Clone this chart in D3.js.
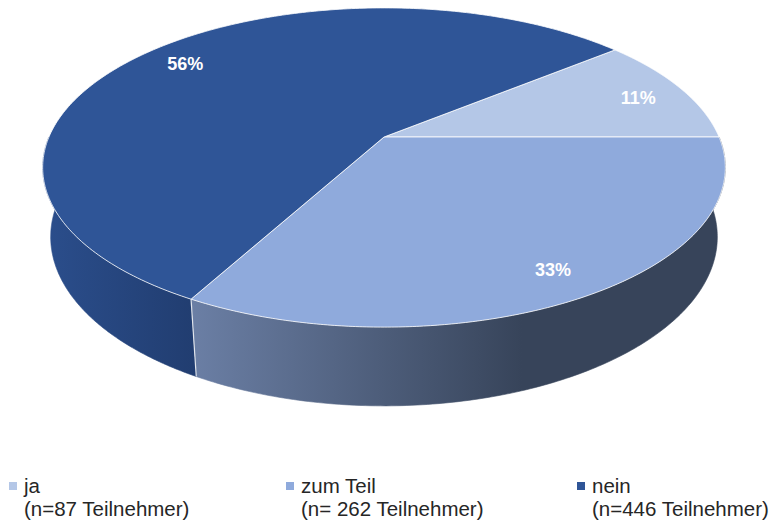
<!DOCTYPE html>
<html>
<head>
<meta charset="utf-8">
<script src="https://cdn.jsdelivr.net/npm/d3@7"></script>
<style>
  html, body { margin: 0; padding: 0; background: #ffffff; }
  svg { display: block; }
</style>
</head>
<body>
<svg id="chart" width="779" height="525"></svg>
<script>
// ---- data ----
const categories = ["ja", "zum Teil", "nein"];
const counts = [87, 262, 446];
const legendSubLabels = ["(n=87 Teilnehmer)", "(n= 262 Teilnehmer)", "(n=446 Teilnehmer)"];
const topColors = ["#B4C7E7", "#8FAADC", "#2F5597"];
const wallColorsLight = ["#C7D3E8", "#6B7FA5", "#2B4E8C"];
const wallColorsDark = ["#9AA8C0", "#37445A", "#213D70"];

// ---- layout / projection ----
const W = 779, H = 525;
const cx = 384, cy = 137;   // screen position of pie centre
const f = 1558, D = 4.65;   // perspective focal length, camera distance (in radii)
const sa = 0.459, ca = Math.sqrt(1 - sa * sa); // tilt
const depth = 0.235;        // pie thickness (in radii)

function proj(phi, y, r = 1) {
  const x = r * Math.cos(phi), z = r * Math.sin(phi);
  const v = y * ca + z * sa;
  const w = z * ca - y * sa;
  const s = f / (D + w);
  return [cx + x * s, cy - v * s];
}
function samples(a0, a1, n) {
  return d3.range(n + 1).map(i => a0 + (a1 - a0) * i / n);
}

const svg = d3.select("#chart");
const defs = svg.append("defs");
const color = d3.scaleOrdinal().domain(categories).range(topColors);

const total = d3.sum(counts);
const pie = d3.pie().sort(null)
  .startAngle(2 * Math.PI * counts[0] / total)
  .endAngle(2 * Math.PI * counts[0] / total - 2 * Math.PI);
const arcs = pie(counts);

const line = d3.line();

// ---- walls (visible front half) ----
const gWalls = svg.append("g");
arcs.forEach((a, i) => {
  const lo = Math.min(a.startAngle, a.endAngle), hi = Math.max(a.startAngle, a.endAngle);
  const s = Math.max(lo, -Math.PI), e = Math.min(hi, 0);
  if (e <= s) return;
  const angs = samples(e, s, 160);
  const top = angs.map(p => proj(p, 0));
  const bot = angs.slice().reverse().map(p => proj(p, -depth));
  const xs = top.concat(bot).map(p => p[0]);
  const x0 = d3.min(xs), x1 = d3.max(xs);
  const gid = "wallGrad" + i;
  const grad = defs.append("linearGradient").attr("id", gid)
    .attr("gradientUnits", "userSpaceOnUse")
    .attr("x1", x0).attr("x2", x1).attr("y1", 0).attr("y2", 0);
  const stopEnd = i === 1 ? 0.62 : 1;
  grad.append("stop").attr("offset", 0).attr("stop-color", wallColorsLight[i]);
  grad.append("stop").attr("offset", stopEnd).attr("stop-color", wallColorsDark[i]);
  grad.append("stop").attr("offset", 1).attr("stop-color", wallColorsDark[i]);
  gWalls.append("path")
    .attr("d", line(top.concat(bot)) + "Z")
    .attr("fill", "url(#" + gid + ")")
    .attr("stroke", "url(#" + gid + ")")
    .attr("stroke-width", 0.6);
});
// wall boundary lines
arcs.forEach(a => {
  let p = a.startAngle;
  while (p > 0) p -= 2 * Math.PI;
  while (p < -2 * Math.PI) p += 2 * Math.PI;
  if (p > -Math.PI && p < 0) {
    gWalls.append("path")
      .attr("d", line([proj(p, 0), proj(p, -depth)]))
      .attr("stroke", "#ffffff").attr("stroke-opacity", 0.85)
      .attr("stroke-width", 1.2).attr("fill", "none");
  }
});

// ---- top faces ----
const gTop = svg.append("g");
arcs.forEach((a, i) => {
  const pts = [[cx, cy]].concat(samples(a.startAngle, a.endAngle, 240).map(p => proj(p, 0)));
  gTop.append("path")
    .attr("d", line(pts) + "Z")
    .attr("fill", color(categories[i]))
    .attr("stroke", "#ffffff")
    .attr("stroke-opacity", 0.8)
    .attr("stroke-width", 1)
    .attr("stroke-linejoin", "round");
});

// ---- percentage labels ----
const fmt = d3.format(".0%");
arcs.forEach((a, i) => {
  const mid = (a.startAngle + a.endAngle) / 2;
  const p = proj(mid, 0, 0.85);
  svg.append("text")
    .attr("x", p[0]).attr("y", p[1] + 2.5)
    .attr("text-anchor", "middle")
    .attr("dominant-baseline", "central")
    .attr("font-family", "Liberation Sans, Arial, sans-serif")
    .attr("font-weight", "bold")
    .attr("font-size", 18)
    .attr("fill", "#ffffff")
    .text(fmt(a.value / total));
});

// ---- legend ----
const legendX = [9, 286, 577];
const gLeg = svg.append("g");
categories.forEach((c, i) => {
  const g = gLeg.append("g").attr("transform", `translate(${legendX[i]},0)`);
  g.append("rect").attr("x", 0).attr("y", 482).attr("width", 8).attr("height", 8)
    .attr("fill", color(c));
  const t = g.append("text")
    .attr("font-family", "Liberation Sans, Arial, sans-serif")
    .attr("font-size", 20.5)
    .attr("fill", "#262626");
  t.append("tspan").attr("x", 15).attr("y", 493).text(c);
  t.append("tspan").attr("x", 15).attr("y", 516).text(legendSubLabels[i]);
});
</script>
</body>
</html>
